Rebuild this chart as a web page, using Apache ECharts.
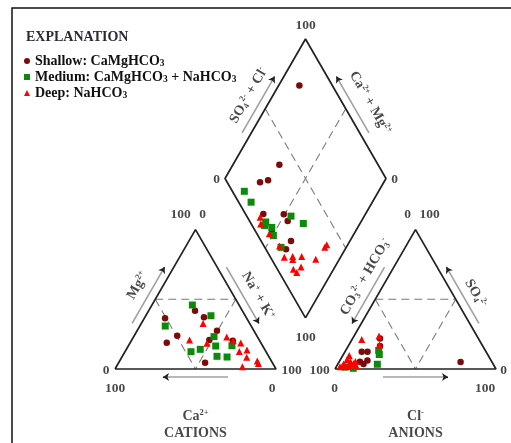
<!DOCTYPE html>
<html><head><meta charset="utf-8">
<script src="https://cdn.jsdelivr.net/npm/echarts@6/dist/echarts.min.js"></script>
<style>html,body{margin:0;padding:0;background:#fff}#c{width:511px;height:443px}</style>
</head><body><div id="c"></div>
<script>
// ---------------- DATA ----------------
const groupNames = ['Shallow: CaMgHCO3', 'Medium: CaMgHCO3 + NaHCO3', 'Deep: NaHCO3'];
// Cations, % meq: [Ca, Mg, Na+K]
const cationShallow = [[29.4,41.8,28.8],[26.2,37.1,36.7],[50.7,36.4,12.9],[49.4,23.9,26.7],[58.4,18.9,22.7],[22.9,27.5,49.6],[31.0,20.8,48.2],[16.7,20.3,63.0],[41.8,4.5,53.7]];
const cationMedium  = [[29.0,45.9,25.1],[21.3,38.2,40.5],[53.4,30.8,15.8],[26.9,23.2,49.9],[29.2,16.5,54.3],[40.0,14.1,45.9],[46.6,12.4,41.0],[32.1,9.1,58.8],[26.1,8.6,65.3],[19.0,16.7,64.3]];
const cationDeep    = [[29.0,32.6,38.4],[43.3,20.8,35.9],[19.1,23.0,57.9],[33.7,18.4,47.9],[12.6,18.6,68.8],[16.4,20.3,63.3],[16.5,12.6,70.9],[11.2,13.6,75.2],[14.0,8.4,77.6],[8.8,5.7,85.5],[9.0,3.9,87.1],[20.1,1.6,78.3]];
// Anions, % meq: [CO3+HCO3, SO4, Cl]
const anionShallow = [[61.1,21.9,17.0],[63.8,16.5,19.7],[77.2,12.4,10.4],[73.6,12.4,14.0],[81.9,5.2,12.9],[76.8,6.1,17.1],[80.5,3.6,15.9],[19.5,5.0,75.5]];
const anionMedium  = [[66.2,13.3,20.5],[67.3,10.4,22.3],[72.0,3.4,24.6],[88.4,0.5,11.1],[93.1,1.4,5.5]];
const anionDeep    = [[72.8,21.2,6.0],[60.8,23.7,15.5],[63.8,17.2,19.0],[86.3,9.7,4.0],[89.1,6.8,4.1],[92.9,3.6,3.5],[87.7,5.4,6.9],[86.6,3.9,9.5],[96.1,1.6,2.3],[92.7,1.6,5.7],[84.6,5.4,10.0],[90.2,2.2,7.6],[85.7,2.5,11.8]];
// Diamond: [Na+K %, SO4+Cl %]
const diamondShallow = [[12.9,79.5],[28.8,38.7],[23.1,20.4],[27.4,26.1],[36.5,11.1],[49.3,23.7],[54.2,23.7],[48.4,10.0],[63.4,18.6],[63.3,12.5]];
const diamondMedium  = [[16.6,7.4],[24.7,7.7],[40.9,9.7],[41.4,7.7],[46.6,11.5],[50.5,9.6],[54.5,27.5],[64.8,32.5],[59.5,10.1]];
const diamondDeep    = [[35.7,7.9],[38.5,5.9],[47.4,7.7],[58.1,9.7],[65.1,8.6],[70.0,14.1],[71.2,13.0],[75.6,19.7],[85.3,27.4],[86.6,37.3],[87.0,39.4],[75.0,9.9],[79.0,15.5],[78.3,10.8]];
const tickLow = '0', tickHigh = '100';

// ---------------- GEOMETRY ----------------
const S = 1.61;            // px per diagram unit
const G = 59 / S;          // gap between triangles
const H = Math.sqrt(3) / 2;
const ORIGIN = [115, 369]; // pixel of the cation triangle's left vertex
const CW = 511, CH = 443;

const cat = p => [p[2] + p[1] / 2, p[1] * H];
const ani = p => [100 + G + p[2] + p[1] / 2, p[1] * H];
const dia = p => [(100 + G) / 2 + (p[0] + p[1]) / 2, H * (100 + G + p[1] - p[0])];

const cL = [0, 0], cR = [100, 0], cA = [50, 100 * H];
const aL = [100 + G, 0], aR = [200 + G, 0], aA = [150 + G, 100 * H];
const dL = dia([0, 0]), dT = dia([0, 100]), dR = dia([100, 100]), dB = dia([100, 0]);
const mid = (p, q) => [(p[0] + q[0]) / 2, (p[1] + q[1]) / 2];
function edgePt(P, Q, t, d) {
  const dx = Q[0] - P[0], dy = Q[1] - P[1], len = Math.hypot(dx, dy);
  return [P[0] + t * dx - dy / len * d / S, P[1] + t * dy + dx / len * d / S];
}
const offPt = (P, dx, dy) => [P[0] + dx / S, P[1] - dy / S];

const FONT = 'Liberation Serif';
const TXT = '#1a1a1a';
const rich = {
  sup: {fontFamily: FONT, fontWeight: 'bold', fontSize: 8.5, color: TXT, verticalAlign: 'top', lineHeight: 8},
  sub: {fontFamily: FONT, fontWeight: 'bold', fontSize: 8.5, color: TXT, verticalAlign: 'bottom', lineHeight: 8}
};

// ---------------- SERIES ----------------
const series = [];
const solidShapes = [[cL, cR, cA, cL], [aL, aR, aA, aL], [dB, dR, dT, dL, dB]];
solidShapes.forEach(s => series.push({type: 'line', data: s, symbol: 'none', silent: true, z: 2,
  lineStyle: {color: '#222', width: 1.7}}));
const dashedSegs = [
  [mid(cL, cA), mid(cA, cR)], [mid(cL, cA), mid(cL, cR)], [mid(cA, cR), mid(cL, cR)],
  [mid(aL, aA), mid(aA, aR)], [mid(aL, aA), mid(aL, aR)], [mid(aA, aR), mid(aL, aR)],
  [mid(dL, dT), mid(dB, dR)], [mid(dT, dR), mid(dL, dB)]
];
dashedSegs.forEach(s => series.push({type: 'line', data: s, symbol: 'none', silent: true, z: 1,
  lineStyle: {color: '#7a7a7a', width: 1.1, type: [8, 5]}}));

// arrows [P, Q, offset px, reversed]
const arrowDefs = [[cL, cA, 8, false], [cA, cR, 8, false], [cL, cR, -8, true],
  [aL, aA, 8, true], [aA, aR, 8, true], [aL, aR, -8, false],
  [dL, dT, 8, false], [dT, dR, 8, true]];
const shafts = [], heads = [];
arrowDefs.forEach(([P, Q, d, rev]) => {
  const len = Math.hypot(Q[0] - P[0], Q[1] - P[1]);
  const h = 32.5 / (len * S), k = 4 / (len * S);
  let a = edgePt(P, Q, 0.5 - h, d), b = edgePt(P, Q, 0.5 + h, d);
  let a2 = edgePt(P, Q, 0.5 + h - k, d);
  if (rev) { const t = a; a = b; b = t; a2 = edgePt(P, Q, 0.5 - h + k, d); }
  shafts.push({coords: [a, b]});
  heads.push({coords: [a2, b]});
});
series.push({type: 'lines', coordinateSystem: 'cartesian2d', data: shafts, silent: true, z: 1,
  symbol: 'none', lineStyle: {color: '#a0a0a0', width: 1.6, opacity: 1}});
series.push({type: 'lines', coordinateSystem: 'cartesian2d', data: heads, silent: true, z: 2,
  symbol: ['none', 'arrow'], symbolSize: [0, 6], lineStyle: {color: '#222', width: 1.2, opacity: 1}});

// text labels
const labels = [];
const addL = (pt, text, size, rotate) => labels.push({value: pt, label: {formatter: text, fontSize: size || 13.5, rotate: rotate || 0}});
// cation ticks
addL(offPt(cA, -15, -15), tickHigh); addL(offPt(cA, 7, -15), tickLow);
addL(offPt(cL, -9, 2), tickLow); addL(offPt(cL, 0, 20), tickHigh);
addL(offPt(cR, 15.5, 2), tickHigh); addL(offPt(cR, -4, 20), tickLow);
// anion ticks
addL(offPt(aA, -8, -15), tickLow); addL(offPt(aA, 14, -15), tickHigh);
addL(offPt(aL, -15.5, 2), tickHigh); addL(offPt(aL, -0.5, 20), tickLow);
addL(offPt(aR, 7.5, 2), tickLow); addL(offPt(aR, -11, 20), tickHigh);
// diamond ticks
addL(offPt(dL, -8.5, 1.5), tickLow); addL(offPt(dR, 8.5, 1.5), tickLow);
addL(offPt(dT, 0, -14), tickHigh); addL(offPt(dB, 0, 19.5), tickHigh);
// titles
addL(offPt(mid(cL, cR), 0, 47), 'Ca{sup|2+}', 14);
addL(offPt(mid(cL, cR), 0, 64), 'CATIONS', 14);
addL(offPt(mid(aL, aR), 0, 47), 'Cl{sup|-}', 14);
addL(offPt(mid(aL, aR), 0, 64), 'ANIONS', 14);
// edge titles
addL(edgePt(cL, cA, 0.52, 22), 'Mg{sup|2+}', 14, 60);
addL(edgePt(cA, cR, 0.55, 21), 'Na{sup|+} + K{sup|+}', 14, -60);
addL(edgePt(aL, aA, 0.59, 20), 'CO{sub|3}{sup|2-} + HCO{sub|3}{sup|-}', 14, 60);
addL(edgePt(aA, aR, 0.53, 20), 'SO{sub|4}{sup|2-}', 14, -60);
addL(edgePt(dL, dT, 0.52, 21), 'SO{sub|4}{sup|2-} + Cl{sup|-}', 14, 60);
addL(edgePt(dT, dR, 0.545, 24), 'Ca{sup|2+} + Mg{sup|2+}', 14, -60);

series.push({type: 'scatter', data: labels, symbolSize: 1, silent: true, z: 3,
  itemStyle: {color: 'rgba(0,0,0,0)'},
  label: {show: true, position: 'inside', fontFamily: FONT, fontWeight: 'bold', color: TXT, lineHeight: 16, rich: rich}});

// data points
const groups = [
  {name: groupNames[0], c: cationShallow, a: anionShallow, d: diamondShallow, symbol: 'circle', size: 6.5, color: '#7d0a0a'},
  {name: groupNames[1], c: cationMedium, a: anionMedium, d: diamondMedium, symbol: 'rect', size: 7, color: '#0b8a0b'},
  {name: groupNames[2], c: cationDeep, a: anionDeep, d: diamondDeep, symbol: 'triangle', size: 7, color: '#ff0000'}
];
groups.forEach(g => series.push({
  type: 'scatter', name: g.name, symbol: g.symbol, symbolSize: g.size, z: 5,
  itemStyle: {color: g.color, opacity: 1},
  data: [...g.c.map(cat), ...g.a.map(ani), ...g.d.map(dia)]
}));

const chart = echarts.init(document.getElementById('c'), null, {renderer: 'canvas'});
chart.setOption({
  animation: false,
  backgroundColor: '#fff',
  grid: {left: 0, right: 0, top: 0, bottom: 0},
  xAxis: {type: 'value', show: false, min: -ORIGIN[0] / S, max: (CW - ORIGIN[0]) / S},
  yAxis: {type: 'value', show: false, min: -(CH - ORIGIN[1]) / S, max: ORIGIN[1] / S},
  title: {text: 'EXPLANATION', left: 26, top: 30, padding: 0,
    textStyle: {fontFamily: FONT, fontWeight: 'bold', fontSize: 14, color: '#2a2a35'}},
  legend: {orient: 'vertical', left: 24, top: 53.5, padding: 0, itemGap: 1, itemWidth: 6, itemHeight: 6,
    data: groupNames, selectedMode: false,
    formatter: n => n.replace(/O3/g, 'O{s|3}'),
    textStyle: {fontFamily: FONT, fontWeight: 'bold', fontSize: 14, color: '#111', lineHeight: 15,
      rich: {s: {fontFamily: FONT, fontWeight: 'bold', fontSize: 9.5, color: '#111', verticalAlign: 'bottom', lineHeight: 9}}}},
  graphic: [
    {type: 'polyline', silent: true, shape: {points: [[12, CH], [12, 8], [CW, 8]]}, style: {stroke: '#111', lineWidth: 1.5, fill: null}}
  ],
  series: series
});
</script></body></html>
